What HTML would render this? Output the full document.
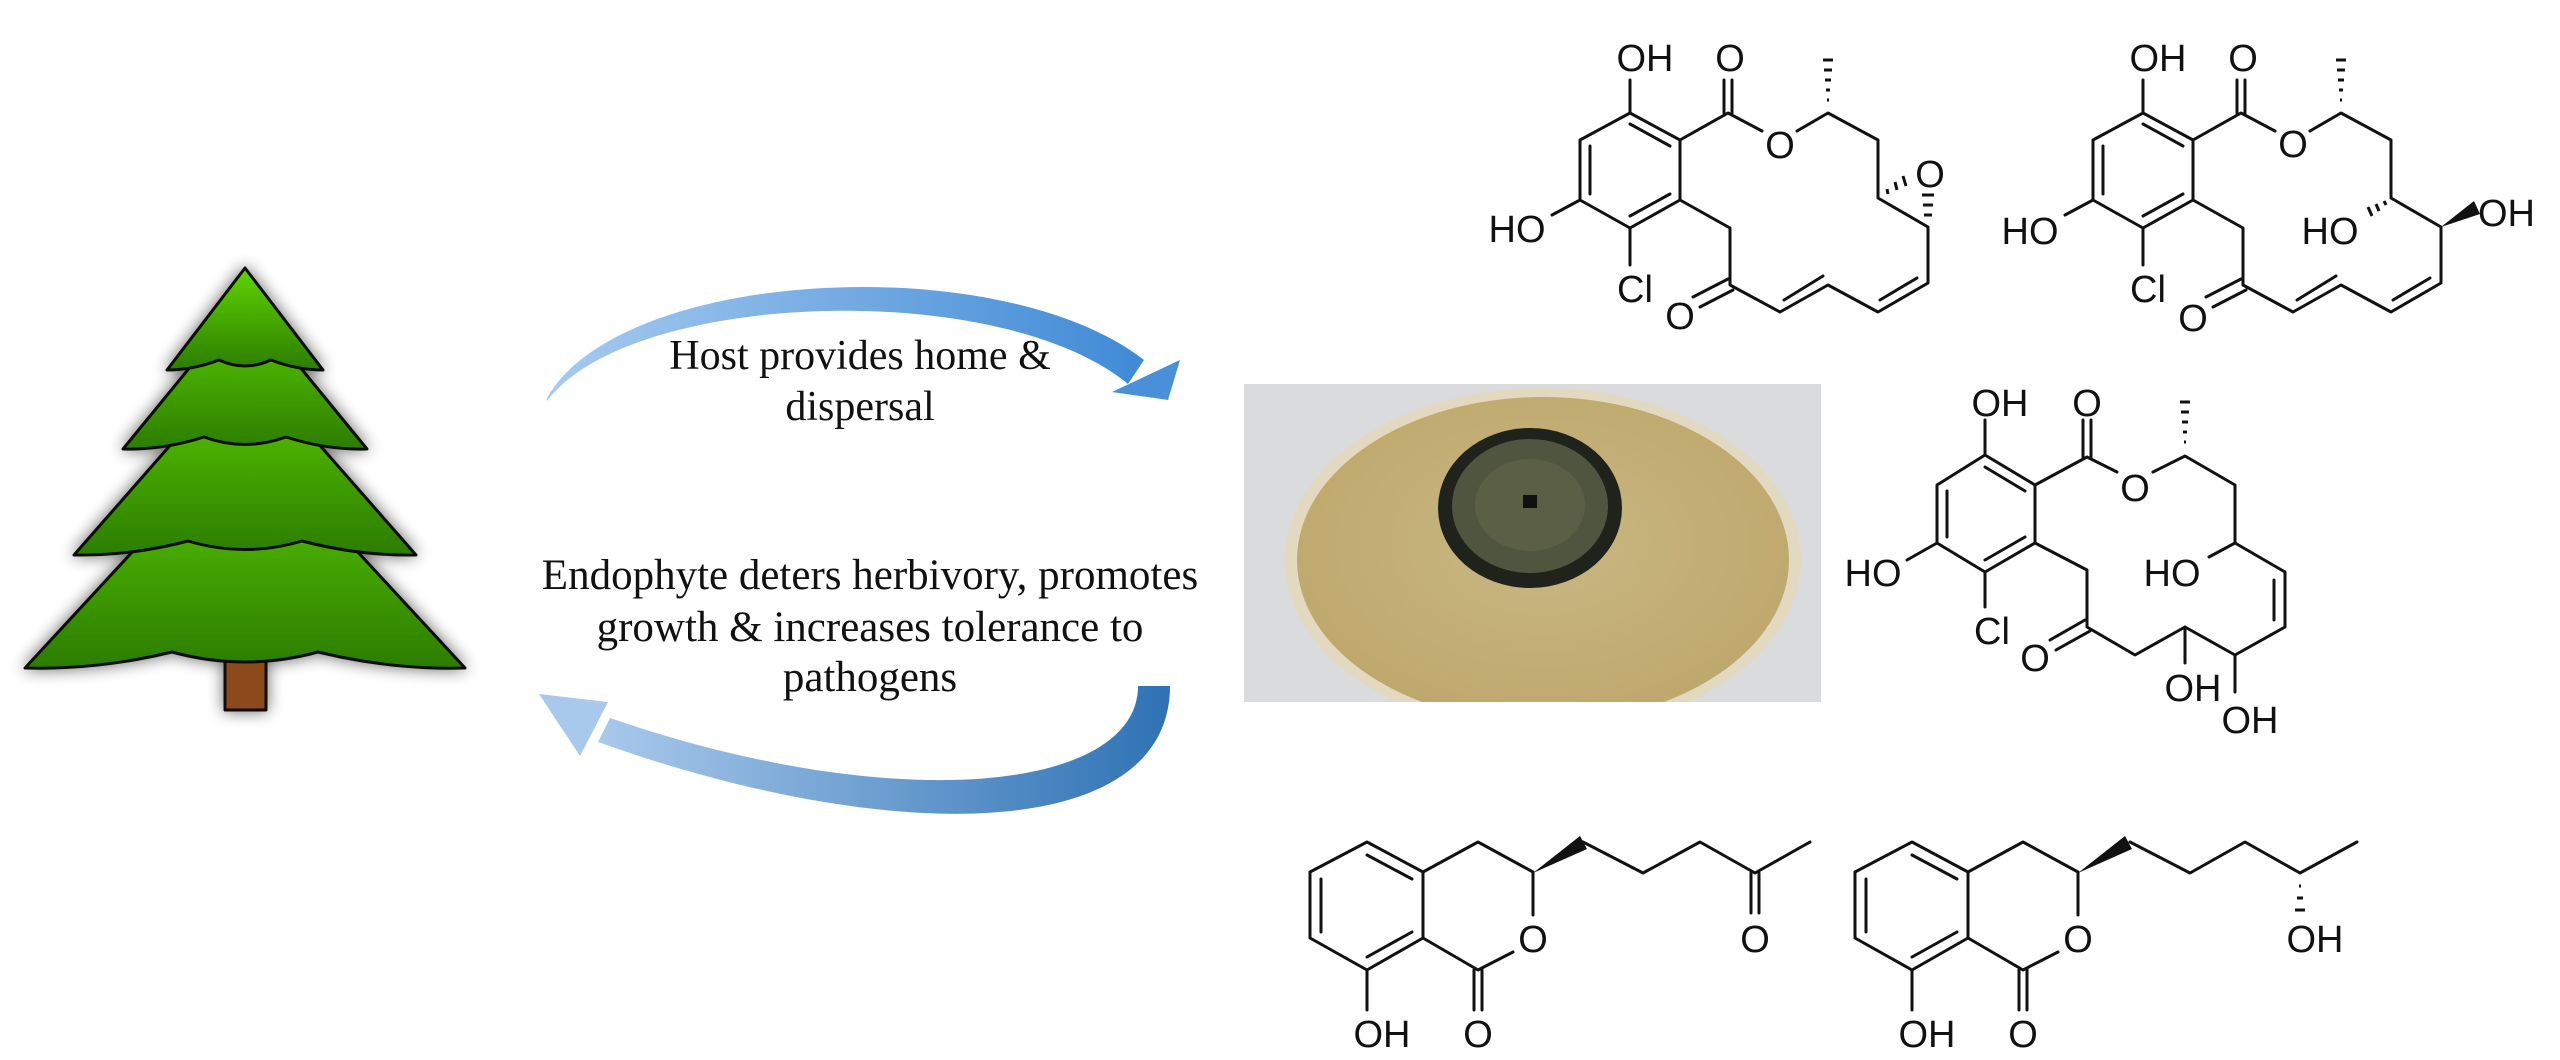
<!DOCTYPE html>
<html><head><meta charset="utf-8"><style>
html,body{margin:0;padding:0;background:#fff;}
svg{display:block;}
.b{stroke:#111;stroke-width:3;fill:none;stroke-linecap:round;stroke-linejoin:round;}
.t{font-family:"Liberation Sans",Arial,sans-serif;font-size:38px;fill:#111;text-anchor:middle;}
.s{font-family:"Liberation Serif","Times New Roman",serif;fill:#111;text-anchor:middle;}
</style></head><body>
<svg width="2560" height="1060" viewBox="0 0 2560 1060" xmlns="http://www.w3.org/2000/svg">
<defs>
<linearGradient id="g" x1="0" y1="0" x2="0" y2="1"><stop offset="0" stop-color="#5fd400"/><stop offset="1" stop-color="#2c7d00"/></linearGradient>
<linearGradient id="a1" x1="0" y1="0" x2="1" y2="0"><stop offset="0" stop-color="#a8cbef"/><stop offset="1" stop-color="#3f8ad6"/></linearGradient>
<linearGradient id="a2" x1="1" y1="0" x2="0" y2="0"><stop offset="0" stop-color="#2e72b4"/><stop offset="1" stop-color="#a9c9ec"/></linearGradient>
<radialGradient id="agar" cx="0.5" cy="0.45" r="0.55"><stop offset="0" stop-color="#c9b784"/><stop offset="1" stop-color="#bea86c"/></radialGradient>
<filter id="sh" x="-20%" y="-20%" width="140%" height="140%"><feGaussianBlur in="SourceAlpha" stdDeviation="8"/><feComponentTransfer><feFuncA type="linear" slope="0.6"/></feComponentTransfer><feMerge><feMergeNode/><feMergeNode in="SourceGraphic"/></feMerge></filter>
<clipPath id="pc"><rect x="1244" y="384" width="577" height="318"/></clipPath>
</defs>

<!-- Tree -->
<g filter="url(#sh)" stroke="#111" stroke-width="3" stroke-linejoin="round">
<rect x="225" y="650" width="41" height="60" fill="#8b4a1c"/>
<path d="M245,430 L465,668 Q392,670 318,652 Q245,672 172,652 Q98,670 25,668 Z" fill="url(#g)"/>
<path d="M245,360 L416,555 Q359,556 302,541 Q245,558 188,541 Q131,556 74,555 Z" fill="url(#g)"/>
<path d="M245,300 L367,449 Q326,450 286,437 Q245,452 204,437 Q164,450 123,449 Z" fill="url(#g)"/>
<path d="M245,268 L323,370 Q297,370 271,360 Q245,372 219,360 Q193,370 167,370 Z" fill="url(#g)"/>
</g>

<!-- Top arrow -->
<path d="M547,398 C620,268 1000,248 1144,360 L1128,384 C1000,278 630,290 547,401 Z" fill="url(#a1)"/>
<path d="M1168,400 L1180,360 L1112,392 Z" fill="#4a90d9"/>
<text class="s" x="860" y="369" font-size="42">Host provides home &amp;</text>
<text class="s" x="860" y="420" font-size="42">dispersal</text>

<!-- Bottom arrow -->
<path d="M1170,686 C1170,840 900,850 598,742 L610,718 C900,818 1138,790 1138,686 Z" fill="url(#a2)"/>
<path d="M539,694 L608,702 L580,756 Z" fill="#a9c9ec"/>
<text class="s" x="870" y="589" font-size="43">Endophyte deters herbivory, promotes</text>
<text class="s" x="870" y="641" font-size="43">growth &amp; increases tolerance to</text>
<text class="s" x="870" y="691" font-size="43">pathogens</text>

<!-- Petri dish -->
<g clip-path="url(#pc)">
<rect x="1244" y="384" width="577" height="318" fill="#dadbdd"/>
<ellipse cx="1543" cy="560" rx="258" ry="172" fill="#e3d9c1"/>
<ellipse cx="1543" cy="560" rx="246" ry="163" fill="url(#agar)"/>
<ellipse cx="1530" cy="508" rx="92" ry="80" fill="#1f231c"/>
<ellipse cx="1530" cy="506" rx="78" ry="67" fill="#4f553f"/>
<ellipse cx="1530" cy="505" rx="55" ry="46" fill="#5a5f46"/>
<rect x="1523" y="495" width="14" height="13" fill="#111"/>
</g>

<!-- Structure 1 -->
<g class="b">
<polygon points="1630,113 1680,140 1680,200 1630,228 1580,200 1580,140"/>
<line x1="1630" y1="124" x2="1670" y2="146"/><line x1="1670" y1="194" x2="1630" y2="216"/><line x1="1590" y1="194" x2="1590" y2="146"/>
<line x1="1630" y1="113" x2="1630" y2="80"/>
<line x1="1580" y1="200" x2="1552" y2="215"/>
<line x1="1630" y1="228" x2="1630" y2="265"/>
<polyline points="1680,140 1728,113 1762,131"/>
<line x1="1724" y1="113" x2="1724" y2="80"/><line x1="1732" y1="113" x2="1732" y2="80"/>
<polyline points="1797,131 1828,113 1878,140 1878,198 1928,227 1928,283 1878,312 1828,285 1780,312 1730,285 1730,228 1680,200"/>
<line x1="1917" y1="278" x2="1880" y2="300"/><line x1="1823" y1="276" x2="1784" y2="300"/>
<line x1="1693" y1="297" x2="1728" y2="279"/><line x1="1700" y1="307" x2="1733" y2="290"/>
</g>
<g stroke="#111" stroke-width="3">
<line x1="1823" y1="60" x2="1833" y2="60"/><line x1="1824" y1="70" x2="1832" y2="70"/><line x1="1825" y1="80" x2="1831" y2="80"/><line x1="1826" y1="90" x2="1830" y2="90"/><line x1="1827" y1="100" x2="1829" y2="100"/>
<line x1="1888" y1="194" x2="1887" y2="189"/><line x1="1897" y1="190" x2="1895" y2="182"/><line x1="1906" y1="186" x2="1903" y2="176"/>
<line x1="1924" y1="215" x2="1932" y2="215"/><line x1="1923" y1="205" x2="1933" y2="205"/><line x1="1922" y1="195" x2="1934" y2="195"/>
</g>
<text class="t" x="1645" y="71">OH</text><text class="t" x="1730" y="71">O</text><text class="t" x="1780" y="158">O</text>
<text class="t" x="1517" y="242">HO</text><text class="t" x="1635" y="302">Cl</text><text class="t" x="1930" y="187">O</text><text class="t" x="1680" y="329">O</text>

<!-- Structure 2 -->
<g class="b">
<polygon points="2143,113 2193,140 2193,200 2143,228 2093,200 2093,140"/>
<line x1="2143" y1="124" x2="2183" y2="146"/><line x1="2183" y1="194" x2="2143" y2="216"/><line x1="2103" y1="194" x2="2103" y2="146"/>
<line x1="2143" y1="113" x2="2143" y2="80"/>
<line x1="2093" y1="200" x2="2065" y2="215"/>
<line x1="2143" y1="228" x2="2143" y2="265"/>
<polyline points="2193,140 2241,113 2275,131"/>
<line x1="2237" y1="113" x2="2237" y2="80"/><line x1="2245" y1="113" x2="2245" y2="80"/>
<polyline points="2310,131 2341,113 2391,140 2391,198 2441,227 2441,283 2391,312 2341,285 2293,312 2243,285 2243,228 2193,200"/>
<line x1="2430" y1="278" x2="2393" y2="300"/><line x1="2336" y1="276" x2="2297" y2="300"/>
<line x1="2206" y1="297" x2="2241" y2="279"/><line x1="2213" y1="307" x2="2246" y2="290"/>
</g>
<polygon points="2441,227 2474,201 2480,214" fill="#111"/>
<g stroke="#111" stroke-width="3">
<line x1="2336" y1="60" x2="2346" y2="60"/><line x1="2337" y1="70" x2="2345" y2="70"/><line x1="2338" y1="80" x2="2344" y2="80"/><line x1="2339" y1="90" x2="2343" y2="90"/><line x1="2340" y1="100" x2="2342" y2="100"/>
<line x1="2384" y1="201" x2="2386" y2="205"/><line x1="2376" y1="204" x2="2379" y2="211"/><line x1="2368" y1="207" x2="2372" y2="216"/>
</g>
<text class="t" x="2158" y="71">OH</text><text class="t" x="2243" y="71">O</text><text class="t" x="2293" y="157">O</text>
<text class="t" x="2030" y="244">HO</text><text class="t" x="2148" y="302">Cl</text><text class="t" x="2193" y="331">O</text>
<text class="t" x="2330" y="244">HO</text><text class="t" x="2478" y="226" style="text-anchor:start">OH</text>

<!-- Structure 3 -->
<g class="b">
<polygon points="1985,455 2035,485 2035,543 1985,572 1937,543 1937,485"/>
<line x1="1985" y1="467" x2="2025" y2="491"/><line x1="2025" y1="537" x2="1985" y2="560"/><line x1="1947" y1="537" x2="1947" y2="491"/>
<line x1="1985" y1="455" x2="1985" y2="420"/>
<line x1="1937" y1="543" x2="1907" y2="560"/>
<line x1="1985" y1="572" x2="1985" y2="607"/>
<polyline points="2035,485 2087,457 2117,472"/>
<line x1="2083" y1="457" x2="2083" y2="420"/><line x1="2091" y1="457" x2="2091" y2="420"/>
<polyline points="2153,472 2185,456 2235,485 2235,543 2285,572 2285,627 2235,655 2185,627 2135,655 2087,627 2087,570 2035,543"/>
<line x1="2235" y1="543" x2="2209" y2="557"/>
<line x1="2274" y1="580" x2="2274" y2="620"/>
<line x1="2235" y1="655" x2="2235" y2="692"/><line x1="2185" y1="627" x2="2185" y2="663"/>
<line x1="2050" y1="640" x2="2085" y2="620"/><line x1="2056" y1="650" x2="2090" y2="631"/>
</g>
<g stroke="#111" stroke-width="3">
<line x1="2180" y1="402" x2="2190" y2="402"/><line x1="2181" y1="412" x2="2189" y2="412"/><line x1="2182" y1="422" x2="2188" y2="422"/><line x1="2183" y1="432" x2="2187" y2="432"/><line x1="2184" y1="442" x2="2186" y2="442"/>
</g>
<text class="t" x="2000" y="416">OH</text><text class="t" x="2087" y="416">O</text><text class="t" x="2135" y="501">O</text>
<text class="t" x="1873" y="586">HO</text><text class="t" x="1992" y="644">Cl</text><text class="t" x="2035" y="671">O</text>
<text class="t" x="2172" y="586">HO</text><text class="t" x="2193" y="701">OH</text><text class="t" x="2250" y="733">OH</text>

<!-- Bottom structure 1 -->
<g class="b">
<polygon points="1367,842 1423,872 1423,938 1367,970 1310,938 1310,872"/>
<line x1="1321" y1="879" x2="1321" y2="932"/><line x1="1367" y1="855" x2="1412" y2="879"/><line x1="1412" y1="932" x2="1367" y2="957"/>
<polyline points="1423,872 1478,842 1533,872 1533,915"/>
<polyline points="1423,938 1478,970 1513,952"/>
<line x1="1474" y1="970" x2="1474" y2="1010"/><line x1="1482" y1="970" x2="1482" y2="1010"/>
<line x1="1367" y1="970" x2="1367" y2="1010"/>
<polyline points="1583,842 1643,873 1700,842 1755,873 1810,842"/>
<line x1="1751" y1="873" x2="1751" y2="913"/><line x1="1759" y1="873" x2="1759" y2="913"/>
</g>
<polygon points="1533,873 1580,836 1587,849" fill="#111"/>
<text class="t" x="1533" y="952">O</text><text class="t" x="1478" y="1047">O</text><text class="t" x="1382" y="1047">OH</text><text class="t" x="1755" y="952">O</text>

<!-- Bottom structure 2 -->
<g class="b">
<polygon points="1912,842 1968,872 1968,938 1912,970 1855,938 1855,872"/>
<line x1="1866" y1="879" x2="1866" y2="932"/><line x1="1912" y1="855" x2="1957" y2="879"/><line x1="1957" y1="932" x2="1912" y2="957"/>
<polyline points="1968,872 2023,842 2078,872 2078,915"/>
<polyline points="1968,938 2023,970 2058,952"/>
<line x1="2019" y1="970" x2="2019" y2="1010"/><line x1="2027" y1="970" x2="2027" y2="1010"/>
<line x1="1912" y1="970" x2="1912" y2="1010"/>
<polyline points="2130,842 2190,873 2245,842 2300,873 2357,842"/>
</g>
<polygon points="2078,873 2125,836 2132,849" fill="#111"/>
<g stroke="#111" stroke-width="3">
<line x1="2299" y1="886" x2="2301" y2="886"/><line x1="2297" y1="898" x2="2303" y2="898"/><line x1="2295" y1="910" x2="2305" y2="910"/>
</g>
<text class="t" x="2078" y="952">O</text><text class="t" x="2023" y="1047">O</text><text class="t" x="1927" y="1047">OH</text><text class="t" x="2315" y="952">OH</text>
</svg>
</body></html>
